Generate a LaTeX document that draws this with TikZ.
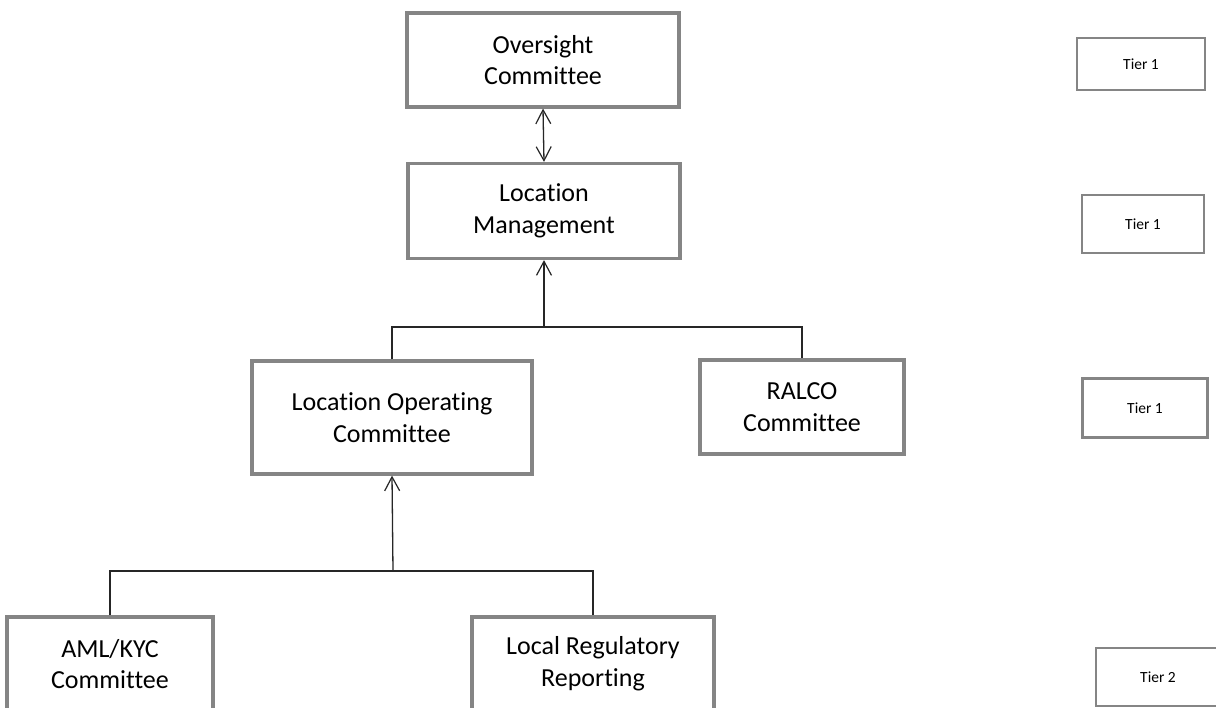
\documentclass[tikz,border=0pt]{standalone}
\usepackage{fontspec}
\setmainfont{Carlito}[Ligatures=NoCommon]
\usetikzlibrary{arrows.meta}
\begin{document}
\begin{tikzpicture}[x=1pt,y=-1pt,
  box/.style={draw=black!48, line width=3.2pt, fill=white, inner sep=0pt, align=center,
    font=\fontsize{26}{31.7}\selectfont},
  tierbox/.style={draw=black!48, line width=2.8pt, fill=white, inner sep=0pt,
    font=\fontsize{15.5}{18}\selectfont},
  conn/.style={line width=1.3pt, draw=black!85},
  tipup/.style={-{Straight Barb[length=14pt,width=15pt,line width=1.2pt]}},
  tipboth/.style={{Straight Barb[length=14pt,width=15pt,line width=1.2pt]}-{Straight Barb[length=14pt,width=15pt,line width=1.2pt]}}
]
\path[use as bounding box] (0,0) rectangle (1216,708);
\clip (0,0) rectangle (1216,708);
\fill[white] (0,0) rectangle (1216,708);

% main boxes
\node[box, minimum width=272pt, minimum height=94pt] (over) at (543,60) {Oversight\\Committee};
\node[box, minimum width=272pt, minimum height=95pt] (mgmt) at (544,211) {Location\\Management};
\node[box, minimum width=280pt, minimum height=113pt] (loc) at (392,417.5) {Location Operating\\Committee};
\node[box, minimum width=204pt, minimum height=94pt] (ralco) at (802,407) {RALCO\\Committee};
\node[box, minimum width=206pt, minimum height=94pt] (aml) at (110,664) {AML/KYC\\Committee};
\node[box, minimum width=242pt, minimum height=94pt] (lrr) at (593,664) {Local Regulatory\\Reporting};

% tier labels
\node[tierbox, minimum width=128pt, minimum height=52pt] (t1a) at (1141,64) {Tier 1};
\node[tierbox, minimum width=122pt, minimum height=58pt] (t1b) at (1143,224) {Tier 1};
\node[tierbox, minimum width=125pt, minimum height=59pt] (t1c) at (1145,408) {Tier 1};
\node[tierbox, minimum width=124pt, minimum height=58pt] (t2) at (1158,677) {Tier 2};

% junctions
\coordinate (j1) at (544,327);
\coordinate (j2) at (393,571);

% connectors
\draw[conn, tipboth] (over.south) -- (mgmt.north);
\draw[conn] (loc.north) |- (j1) -| (ralco.north);
\draw[conn, tipup] (j1) -- (mgmt.south);
\draw[conn] (aml.north) |- (j2) -| (lrr.north);
\draw[conn, tipup] (j2) -- (loc.south);
\end{tikzpicture}
\end{document}
